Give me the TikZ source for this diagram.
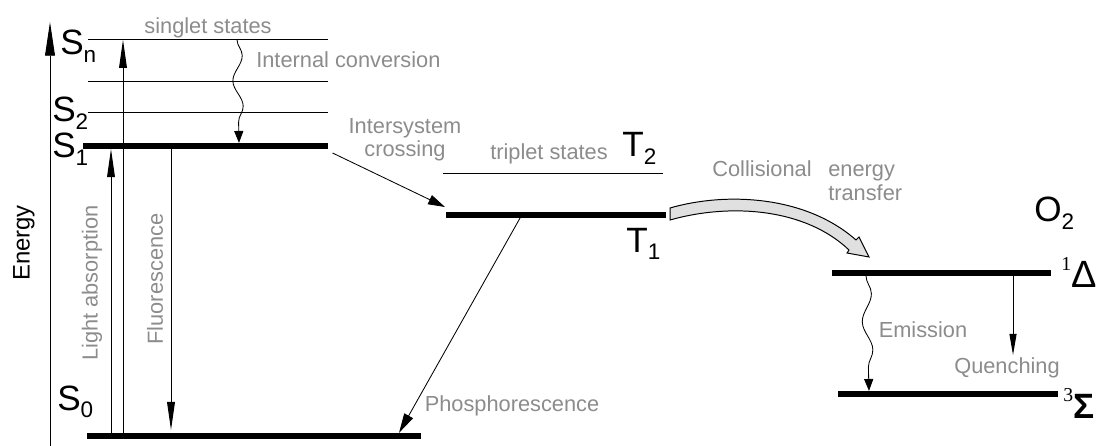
\documentclass[tikz,border=0pt]{standalone}
\usepackage{fontspec}
\setmainfont{Liberation Sans}
\newfontfamily\supfont{Liberation Serif}
\usetikzlibrary{arrows.meta, positioning, decorations.pathmorphing}

\newcommand{\lowsub}[1]{\raisebox{-5.5pt}{\fontsize{16}{16}\selectfont #1}}
\newcommand{\highsup}[1]{\raisebox{12pt}{\fontsize{14}{14}\supfont #1}}

\begin{document}
\begin{tikzpicture}[x=0.025cm, y=-0.025cm,
    thinbar/.style={fill=black, inner sep=0pt, minimum height=0.7pt, minimum width=#1*0.025cm, anchor=west},
    thickbar/.style={fill=black, inner sep=0pt, minimum height=4pt, minimum width=#1*0.025cm, anchor=west},
    statelabel/.style={inner sep=0pt, anchor=base west, font=\fontsize{25}{25}\selectfont},
    note/.style={text=black!45, inner sep=0pt, font=\fontsize{15.5}{16}\selectfont},
    up/.style={-{Triangle[length=20pt, width=5.5pt]}, line width=0.7pt},
    wave/.style={-{Triangle[length=8.5pt, width=6.5pt]}, line width=0.6pt, decorate,
      decoration={snake, amplitude=3.5pt, segment length=36pt, post length=8.5pt}}]

    \useasboundingbox (0,0) rectangle (1104,446);

    \node[thinbar=240] (sn) at (88,39) {};
    \node[thinbar=240] (sk) at (88,81) {};
    \node[thinbar=240] (s2) at (88,112) {};
    \node[thickbar=245] (s1) at (83,146) {};
    \node[thickbar=334] (s0) at (87,436) {};
    \node[thinbar=220] (t2) at (443,173) {};
    \node[thickbar=220] (t1) at (446,215) {};
    \node[thickbar=219] (d1) at (832,273) {};
    \node[thickbar=220] (g3) at (838,394) {};

    \node[statelabel] (snlab) at (60,55) {S\lowsub{n}};
    \node[statelabel] (s2lab) at (52,122) {S\lowsub{2}};
    \node[statelabel] (s1lab) at (52,158) {S\lowsub{1}};
    \node[statelabel] (s0lab) at (57,410) {S\lowsub{0}};
    \node[statelabel] (t2lab) at (622,157) {T\lowsub{2}};
    \node[statelabel] (t1lab) at (626,252) {T\lowsub{1}};
    \node[statelabel] (o2lab) at (1034,222) {O\lowsub{2}};
    \node[statelabel, font=\fontsize{27}{27}\selectfont] (d1lab) at (1061,287) {\highsup{1}Δ};
    \node[statelabel] (g3lab) at (1063,418) {\highsup{3}\textbf{Σ}};

    \node[rotate=90, inner sep=0pt, font=\fontsize{17}{17}\selectfont] (energy) at (24,243) {Energy};
    \node[note] (singlet) at (208,28) {singlet states};
    \node[note, anchor=base west] (intconv) at (256,68) {Internal conversion};
    \node[note, rotate=90] (absorb) at (92,283) {Light absorption};
    \node[note, rotate=90] (fluor) at (155,279) {Fluorescence};
    \node[note, align=center] (isc) at (405,140) {Intersystem\\crossing};
    \node[note] (triplet) at (549,154) {triplet states};
    \node[note, anchor=base east] (collis) at (812,177) {Collisional};
    \node[note, anchor=base west] (energ) at (828,177) {energy};
    \node[note, anchor=base west] (transfer) at (828,200) {transfer};
    \node[note] (phos) at (512,406) {Phosphorescence};
    \node[note] (emission) at (923,330) {Emission};
    \node[note] (quench) at (1007,368) {Quenching};

    \coordinate (ebot) at (50,446);
    \coordinate (etop) at (50,22);
    \coordinate (qend) at (1013,355);

    \draw[-{Triangle[length=24pt, width=7pt]}, line width=0.7pt] (ebot) -- (etop);
    \draw[up] (111,0 |- s0.north) -- (111,0 |- s1.south);
    \draw[up] (123,0 |- s0.north) -- (123,0 |- sn.south);
    \draw[up, shorten >=2pt] (171,0 |- s1.south) -- (171,0 |- s0.north);
    \draw[wave] (237,0 |- sn.south) -- (239,0 |- s1.north);
    \draw[-{Triangle[length=12pt, width=7pt]}, line width=0.6pt] ([shift={(4,7)}]s1.east) -- ([shift={(-1,-8)}]t1.west);
    \draw[-{Triangle[length=14pt, width=7pt]}, line width=0.6pt] (520,0 |- t1.south) -- (399,0 |- s0.north);
    \draw[wave, decoration={segment length=40pt}] (866,0 |- d1.south) -- (869,0 |- g3.north);
    \draw[-{Triangle[length=15pt, width=5pt]}, line width=0.7pt] (1013,0 |- d1.south) -- (qend);

    \filldraw[fill=black!12, line width=0.7pt] (670,208) .. controls (725,192) and (805,195) .. (856,240)
      -- (859,237) -- (869,257) -- (847,253) -- (849,250)
      .. controls (805,208) and (730,203) .. (670,220) -- cycle;
\end{tikzpicture}
\end{document}
